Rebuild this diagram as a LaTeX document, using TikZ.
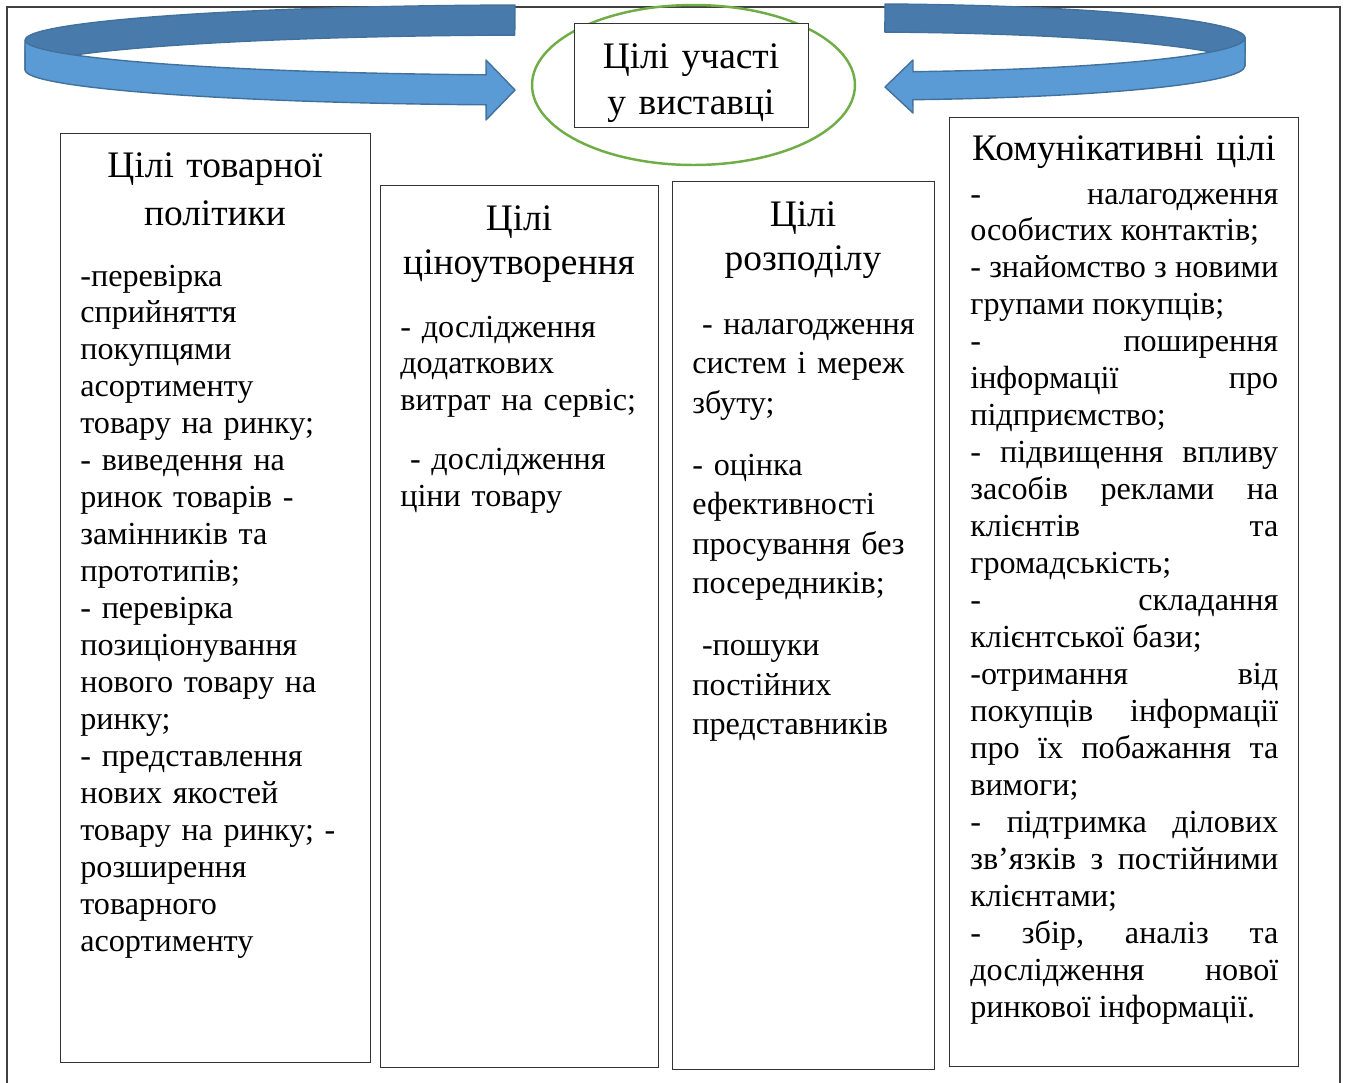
\documentclass[tikz,border=0pt]{standalone}
\usepackage{fontspec}
\setmainfont{Liberation Serif}
\usetikzlibrary{positioning}

\definecolor{bandback}{HTML}{487BAB}
\definecolor{bandfront}{HTML}{5B9BD5}
\definecolor{bandline}{HTML}{41719C}
\definecolor{ringgreen}{HTML}{70AD47}

\tikzset{
  goalbox/.style={draw=black!80, line width=0.8pt, inner sep=0pt, anchor=north west},
  headtext/.style={font=\fontsize{21.3}{26.5}\selectfont, align=center, inner sep=0pt, anchor=base, text width=#1},
  listtext/.style={font=\fontsize{18.3}{21.05}\selectfont, align=left, inner sep=0pt, anchor=base west, text width=#1},
  band/.style={draw=bandline, line width=0.8pt, line join=round},
}

\begin{document}
\begin{tikzpicture}[x=0.02cm, y=0.02cm]
	\useasboundingbox (0,0) rectangle (1347,-1083);

	% Frame
	\draw[black!75, line width=0.6pt] (7,-1083) -- (7,-7) -- (1340,-7) -- (1340,-1083);

	% Left arrow
	\draw[band, fill=bandback] (515,-5) arc[start angle=92.8, end angle=180, x radius=10.3cm, y radius=0.7cm]
		-- (25,-70) arc[start angle=180, end angle=92.8, x radius=10.3cm, y radius=0.7cm] -- cycle;
	\draw[band, fill=bandfront] (25,-40) arc[start angle=180, end angle=264, x radius=10.3cm, y radius=0.7cm]
		-- (486,-60) -- (515,-90) -- (486,-120) -- (486.2,-104.8)
		arc[start angle=264, end angle=180, x radius=10.3cm, y radius=0.7cm] -- cycle;

	% Right arrow
	\draw[band, fill=bandback] (885,-4) arc[start angle=86.3, end angle=0, x radius=7.7cm, y radius=0.68cm]
		-- (1245,-66) arc[start angle=0, end angle=86.3, x radius=7.7cm, y radius=0.68cm] -- cycle;
	\draw[band, fill=bandfront] (1245,-38) arc[start angle=0, end angle=-82.1, x radius=7.7cm, y radius=0.68cm]
		-- (913,-60) -- (885,-87) -- (913,-113) -- (912.9,-99.7)
		arc[start angle=-82.1, end angle=0, x radius=7.7cm, y radius=0.68cm] -- cycle;

	% Goal in the ring
	\draw[ringgreen, line width=1.4pt] (693.5,-85) ellipse [x radius=3.23cm, y radius=1.6cm];
	\node[goalbox, fill=white, minimum width=4.68cm, minimum height=2.08cm] (goal) at (574,-23) {};
	\node[headtext=4.5cm] (goaltext) at (691,-68) {Цілі участі\\у виставці};

	% Boxes
	\node[goalbox, minimum width=6.2cm, minimum height=18.58cm] (product) at (60,-133) {};
	\node[goalbox, minimum width=5.56cm, minimum height=17.64cm] (price) at (380,-185) {};
	\node[goalbox, minimum width=5.24cm, minimum height=17.76cm] (distrib) at (672,-181) {};
	\node[goalbox, minimum width=6.98cm, minimum height=18.98cm] (comm) at (949,-117) {};

	% Titles
	\node[headtext=5.8cm] (producthead) at (215,-177) {Цілі товарної\\[1pt]політики};
	\node[headtext=5.3cm] (pricehead) at (519,-230) {Цілі\\[-1pt]ціноутворення};
	\node[headtext=5cm] (distribhead) at (803,-226) {Цілі\\[-1pt]розподілу};
	\node[headtext=6.7cm] (commhead) at (1124,-160) {Комунікативні цілі};

	% Lists
	\node[listtext=5.7cm] (productlist) at (80,-286) {-перевірка\\сприйняття\\покупцями\\асортименту\\товару на ринку;\\
		- виведення на\\ринок товарів -\\замінників та\\прототипів;\\- перевірка\\позиціонування\\нового товару на\\ринку;\\
		- представлення\\нових якостей\\товару на ринку; -\\розширення\\товарного\\асортименту};
	\node[listtext=5.3cm] (pricelist) at (400,-337) {- дослідження\\додаткових\\витрат на сервіс;\\[0.44cm]
		\hspace*{0.3em}- дослідження\\ціни товару};
	\node[listtext=5cm, font=\fontsize{18.3}{22.5}\selectfont] (distriblist) at (692,-334) {\hspace*{0.3em}- налагодження\\систем і мереж\\збуту;\\[0.45cm]
		- оцінка\\ефективності\\просування без\\посередників;\\[0.45cm]
		\hspace*{0.3em}-пошуки\\постійних\\представників};
	\node[listtext=6.16cm, align=justify] (commlist) at (970,-204) {-~налагодження\linebreak
		особистих~контактів;\\
		-~знайомство~з~новими\linebreak групами~покупців;\\
		-~поширення\linebreak інформації~про\linebreak підприємство;\\
		-~підвищення~впливу\linebreak засобів~реклами~на\linebreak клієнтів~та\linebreak громадськість;\\
		-~складання\linebreak клієнтської~бази;\\
		-отримання~від\linebreak покупців~інформації\linebreak про~їх~побажання~та\linebreak вимоги;\\
		-~підтримка~ділових\linebreak зв’язків~з~постійними\linebreak клієнтами;\\
		-~збір,~аналіз~та\linebreak дослідження~нової\linebreak ринкової~інформації.};
\end{tikzpicture}
\end{document}
